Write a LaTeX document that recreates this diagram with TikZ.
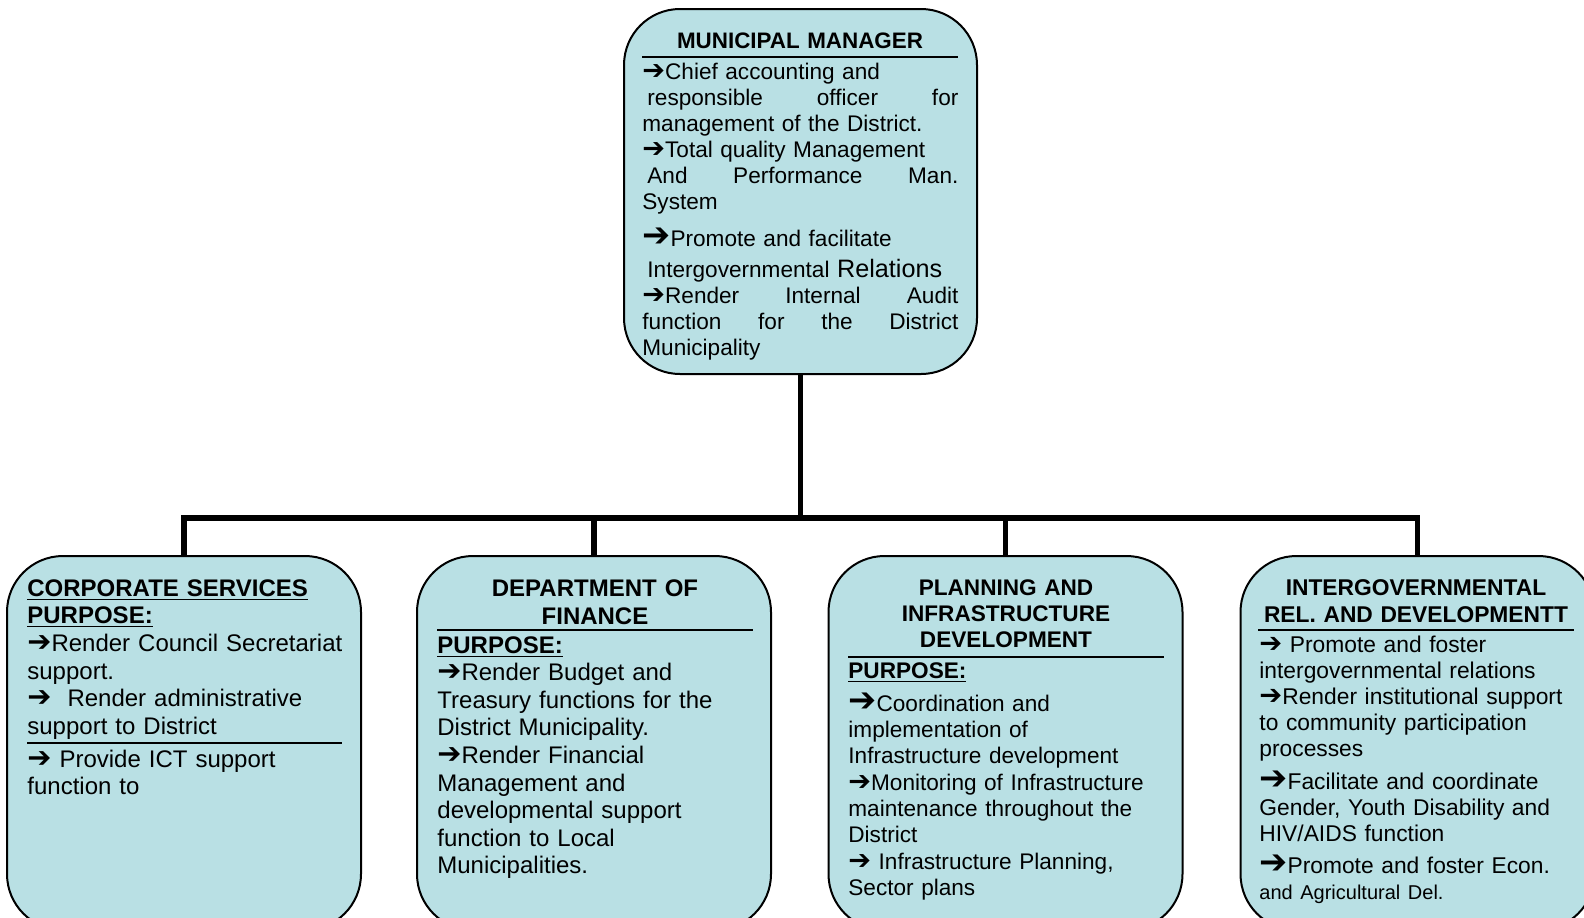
\documentclass[tikz,border=0pt]{standalone}
\usepackage{fontspec}
\setmainfont{Liberation Sans}
\newfontfamily\arrowfont{DejaVu Sans}[Scale=1.2]
\definecolor{boxblue}{RGB}{185,224,228}
\newcommand\warr{{\arrowfont\bfseries ➔}}
\newcommand\bigwarr{{\arrowfont\bfseries\fontsize{14}{13}\selectfont ➔}}
\newcommand\justline[1]{\leavevmode\hbox to\linewidth{#1}}
\tikzset{
  box/.style={draw, line width=1pt, fill=boxblue, rounded corners=28pt,
    inner sep=0pt, outer sep=0pt, minimum width=177pt, minimum height=187pt},
  link/.style={line width=2.6pt},
  sep/.style={line width=0.8pt},
  txt/.style={inner sep=0pt, text width=158pt, align=left, anchor=base west},
  ttl/.style={inner sep=0pt, text width=158pt, align=center, anchor=base}
}
\begin{document}
\begin{tikzpicture}[x=0.5pt,y=-0.5pt]
\useasboundingbox (0,0) rectangle (1584,917);
\clip (0,0) rectangle (1584,917);
\node[box, minimum width=176.5pt, minimum height=182.5pt] (mm) at (800.5,191.5) {};
\node[box] (cs) at (184,743) {};
\node[box] (fin) at (594,743) {};
\node[box] (pid) at (1005.5,743) {};
\node[box] (igr) at (1417.5,743) {};
\coordinate (bus) at (800.5,518);
\draw[link] (mm.south) -- (bus);
\draw[link] (cs.north) |- (bus) -| (igr.north);
\foreach \b in {fin,pid}
  \draw[link] (\b.north) -- (\b.north |- bus);
\node[ttl, font=\fontsize{11.2}{13}\selectfont\bfseries] (mmtitle) at (800,48) {MUNICIPAL MANAGER};
\draw[sep] (642,57) -- (958,57);
\node[txt, font=\fontsize{11.3}{13}\selectfont] (mmbody) at (642,79) {%
\warr Chief accounting and\\
\justline{\hspace{2.5pt}responsible\hfill officer\hfill for}\\
management of the District.\\
\warr Total quality Management\\
\justline{\hspace{2.5pt}And\hfill Performance\hfill Man.}\\
System\\[5.5pt]
\bigwarr Promote and facilitate\\[2.5pt]
\hspace*{2.5pt}Intergovernmental {\fontsize{12.6}{13}\selectfont Relations}\\
\justline{\warr Render\hfill Internal\hfill Audit}\\
\justline{function\hfill for\hfill the\hfill District}\\
Municipality};
\node[txt, font=\fontsize{12}{13.85}\selectfont] (csbody) at (27,596) {%
\underline{\textbf{CORPORATE SERVICES}}\\
\underline{\textbf{PURPOSE:}}\\
\warr Render Council Secretariat\\
support.\\
\warr\hspace*{8pt}Render administrative\\
support to District\\[2.5pt]
\warr\ Provide ICT support\\
function to};
\draw[sep] (27,743) -- (342,743);
\node[ttl, font=\fontsize{12}{14}\selectfont\bfseries] (fintitle) at (595,596) {DEPARTMENT OF\\FINANCE};
\draw[sep] (437,630) -- (753,630);
\node[txt, font=\fontsize{12}{13.8}\selectfont] (finbody) at (437,653) {%
\underline{\textbf{PURPOSE:}}\\
\warr Render Budget and\\
Treasury functions for the\\
District Municipality.\\
\warr Render Financial\\
Management and\\
developmental support\\
function to Local\\
Municipalities.};
\node[ttl, font=\fontsize{11.3}{13}\selectfont\bfseries] (pidtitle) at (1006,595) {PLANNING AND\\INFRASTRUCTURE\\DEVELOPMENT};
\draw[sep] (848,657) -- (1164,657);
\node[txt, font=\fontsize{11.3}{13.15}\selectfont] (pidbody) at (848,678) {%
\underline{\textbf{PURPOSE:}}\\[3.5pt]
\bigwarr Coordination and\\
implementation of\\
Infrastructure development\\
\warr Monitoring of Infrastructure\\
maintenance throughout the\\
District\\
\warr\ Infrastructure Planning,\\
Sector plans};
\node[ttl, font=\fontsize{11.4}{13.5}\selectfont\bfseries] (igrtitle) at (1416,595) {INTERGOVERNMENTAL\\REL. AND DEVELOPMENTT};
\draw[sep] (1258,630) -- (1574,630);
\node[txt, font=\fontsize{11.4}{13.1}\selectfont] (igrbody) at (1259,652) {%
\warr\ Promote and foster\\
intergovernmental relations\\
\warr Render institutional support\\
to community participation\\
processes\\[3pt]
\bigwarr Facilitate and coordinate\\
Gender, Youth Disability and\\
HIV/AIDS function\\[3pt]
\bigwarr Promote and foster Econ.\\
{\fontsize{10}{13.1}\selectfont and Agricultural Del.}};
\end{tikzpicture}
\end{document}
